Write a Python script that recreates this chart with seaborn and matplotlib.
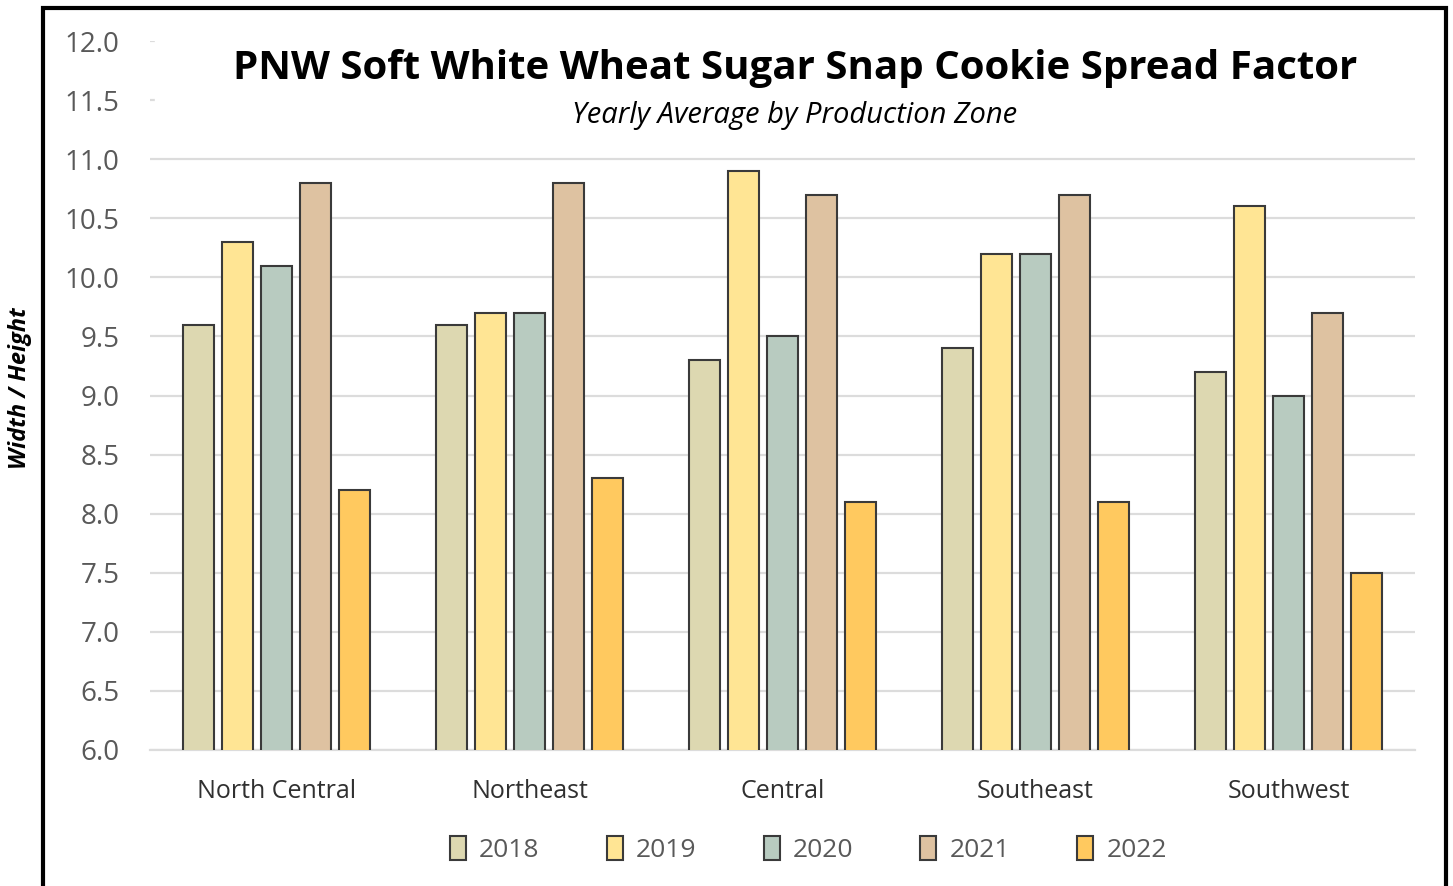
import pandas as pd
import seaborn as sns
import matplotlib

matplotlib.use('Agg')
import matplotlib.pyplot as plt
from matplotlib.patches import Rectangle

# Datos
zonas = ["North Central", "Northeast", "Central", "Southeast", "Southwest"]
anios = ["2018", "2019", "2020", "2021", "2022"]
v2018 = [9.6, 9.6, 9.3, 9.4, 9.2]
v2019 = [10.3, 9.7, 10.9, 10.2, 10.6]
v2020 = [10.1, 9.7, 9.5, 10.2, 9.0]
v2021 = [10.8, 10.8, 10.7, 10.7, 9.7]
v2022 = [8.2, 8.3, 8.1, 8.1, 7.5]
colores = ["#DDD8B1", "#FFE594", "#B8CBC0", "#DEC2A1", "#FFC95F"]

df = pd.DataFrame({"Zona": zonas * 5,
                   "Anio": [a for a in anios for _ in zonas],
                   "Valor": v2018 + v2019 + v2020 + v2021 + v2022})

sns.set_theme(style="white")
plt.rcParams['font.family'] = ['Open Sans', 'DejaVu Sans']

fig = plt.figure(figsize=(14.53, 8.86), dpi=100)
ax = fig.add_axes([150 / 1453, 1 - 750 / 886, 1265 / 1453, 709 / 886])

sns.barplot(data=df, x="Zona", y="Valor", hue="Anio", order=zonas, hue_order=anios,
            palette=colores, saturation=1, width=0.77, gap=0.2, edgecolor="#3a3a3a",
            linewidth=1.5, ax=ax, zorder=3, legend=True)

ax.set_ylim(6.0, 12.0)
ax.set_yticks([6.0 + 0.5 * i for i in range(13)])
ax.set_yticklabels([f"{6.0 + 0.5 * i:.1f}" for i in range(13)], fontsize=20, color="#595959")
ax.tick_params(axis='x', labelsize=18, labelcolor="#303030", length=0, pad=21)
ax.tick_params(axis='y', length=0, pad=22)
ax.set_xlim(-0.5, 4.5)
ax.set_xlabel("")
ax.set_ylabel("")
ax.set_axisbelow(True)
ax.yaxis.grid(True, color="#DCDCDC", linewidth=1.6, zorder=0)
for s in ["top", "right", "left"]:
    ax.spines[s].set_visible(False)
ax.spines["bottom"].set_color("#DCDCDC")
ax.spines["bottom"].set_linewidth(1.6)

# zona blanca detras del titulo
ax.axhspan(11.2, 12.2, xmin=0.004, color="white", zorder=1, clip_on=False)

leg = ax.legend(loc="upper center", bbox_to_anchor=(0.5205, -0.088), ncol=5, frameon=False,
                fontsize=19, handlelength=0.6, handleheight=1.0, columnspacing=2.55,
                handletextpad=0.5)
for t in leg.get_texts():
    t.set_color("#595959")

fig.text(795 / 1453, 1 - 68 / 886, "PNW Soft White Wheat Sugar Snap Cookie Spread Factor",
         ha="center", va="center", fontsize=29, fontweight="bold", color="black")
fig.text(795 / 1453, 1 - 115 / 886, "Yearly Average by Production Zone",
         ha="center", va="center", fontsize=21, style="italic", color="black")
fig.text(20 / 1453, 1 - 388 / 886, "Width / Height", rotation=90, ha="center", va="center",
         fontsize=17, fontweight="bold", style="italic", color="black")

# marco
fig.patches.append(Rectangle((43 / 1453, -0.01), 1403 / 1453, 1 - 8 / 886 + 0.01,
                             transform=fig.transFigure, fill=False, edgecolor="black",
                             linewidth=3))

fig.savefig("out.png", dpi=100)
